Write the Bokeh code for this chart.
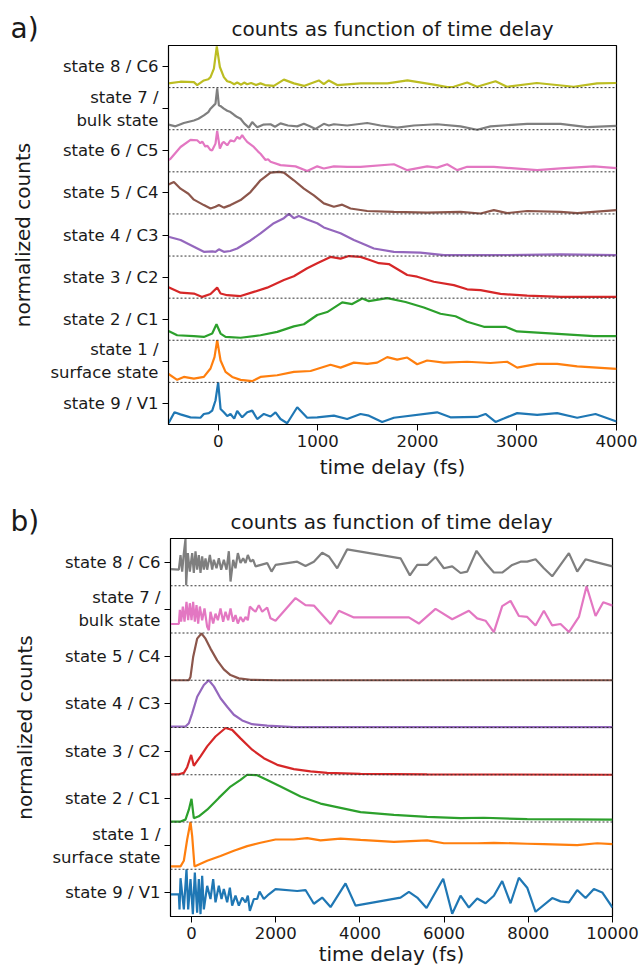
from bokeh.plotting import figure
from bokeh.models import Range1d, FixedTicker, Span
from bokeh.layouts import column
from bokeh.core.properties import value
from bokeh.embed import file_html
from bokeh.resources import INLINE

FONT = "DejaVu Sans"

# ---------------- panel a data (time in fs, normalized counts) ----------------
A_XMAX = 4000
A_XTICKS = [0, 1000, 2000, 3000, 4000]
A_LABELS = ["state 9 / V1", "state 1 /\nsurface state", "state 2 / C1", "state 3 / C2",
            "state 4 / C3", "state 5 / C4", "state 6 / C5", "state 7 /\nbulk state", "state 8 / C6"]

a_v1_t = [-500, -440, -380, -279, -179, -145, -95, -61, -28, -1, 23, 56, 90, 123, 160, 190, 240, 291, 341, 391,
          458, 525, 575, 625, 692, 793, 893, 994, 1161, 1295, 1429, 1513, 1646, 1764, 2198, 2332, 2600, 2684,
          2785, 2868, 3002, 3203, 3404, 3605, 3789, 4000]
a_v1_y = [0.03, 0.29, 0.24, 0.17, 0.16, 0.25, 0.27, 0.33, 0.57, 1.00, 0.37, 0.29, 0.20, 0.25, 0.14, 0.32, 0.17,
          0.29, 0.33, 0.13, 0.25, 0.19, 0.29, 0.13, 0.03, 0.41, 0.16, 0.17, 0.21, 0.13, 0.25, 0.21, 0.06, 0.16,
          0.29, 0.17, 0.18, 0.25, 0.06, 0.14, 0.27, 0.23, 0.27, 0.16, 0.25, 0.07]

a_s1_t = [-500, -413, -346, -245, -145, -78, -38, -11, 23, 73, 140, 224, 341, 424, 592, 759, 927, 1127, 1228,
          1362, 1496, 1596, 1697, 1797, 1898, 1998, 2098, 2266, 2500, 2734, 2902, 3002, 3203, 3404, 3605, 4000]
a_s1_y = [0.20, 0.06, 0.13, 0.09, 0.13, 0.33, 0.60, 1.00, 0.52, 0.25, 0.13, 0.06, 0.03, 0.13, 0.17, 0.25, 0.27,
          0.42, 0.35, 0.47, 0.44, 0.47, 0.60, 0.54, 0.59, 0.43, 0.52, 0.47, 0.49, 0.46, 0.49, 0.35, 0.44, 0.44,
          0.38, 0.32]

a_s2_t = [-500, -413, -245, -145, -61, -18, 23, 73, 224, 424, 592, 759, 860, 994, 1094, 1245, 1345, 1446, 1513,
          1697, 1881, 2065, 2232, 2383, 2500, 2668, 2885, 3002, 3370, 3772, 4000]
a_s2_y = [0.22, 0.12, 0.10, 0.08, 0.16, 0.38, 0.16, 0.08, 0.06, 0.12, 0.20, 0.33, 0.38, 0.60, 0.67, 0.90, 0.86,
          0.99, 0.93, 1.00, 0.91, 0.78, 0.63, 0.57, 0.44, 0.32, 0.32, 0.21, 0.16, 0.10, 0.10]

a_s3_t = [-500, -379, -245, -161, -78, -11, 23, 90, 224, 357, 491, 659, 759, 893, 994, 1127, 1228, 1312, 1429,
          1529, 1613, 1713, 1898, 1998, 2165, 2366, 2500, 2634, 2835, 3103, 3438, 4000]
a_s3_y = [0.26, 0.13, 0.11, 0.03, 0.10, 0.25, 0.11, 0.07, 0.05, 0.15, 0.25, 0.43, 0.52, 0.71, 0.83, 0.98, 0.94,
          1.00, 0.98, 0.90, 0.83, 0.81, 0.55, 0.51, 0.39, 0.31, 0.21, 0.19, 0.10, 0.06, 0.03, 0.03]

a_s4_t = [-500, -379, -245, -145, -60, -28, 6, 56, 120, 190, 260, 324, 424, 558, 659, 709, 759, 809, 893, 994,
          1060, 1228, 1362, 1446, 1563, 1764, 2030, 2266, 2768, 3438, 4000]
a_s4_y = [0.46, 0.38, 0.22, 0.10, 0.11, 0.10, 0.16, 0.10, 0.12, 0.18, 0.28, 0.37, 0.54, 0.78, 0.90, 1.00, 0.90,
          0.95, 0.87, 0.78, 0.68, 0.54, 0.38, 0.30, 0.18, 0.10, 0.08, 0.02, 0.02, 0.04, 0.02]

a_s5_t = [-500, -446, -379, -300, -245, -145, -78, -28, 6, 56, 123, 224, 324, 424, 525, 609, 659, 759, 860, 960,
          1060, 1161, 1245, 1328, 1496, 1764, 2098, 2433, 2634, 2768, 2902, 3103, 3438, 3605, 4000]
a_s5_y = [0.70, 0.76, 0.60, 0.48, 0.34, 0.21, 0.13, 0.17, 0.21, 0.15, 0.21, 0.33, 0.52, 0.80, 0.98, 1.00, 0.98,
          0.80, 0.60, 0.44, 0.25, 0.17, 0.22, 0.13, 0.07, 0.05, 0.03, 0.05, 0.01, 0.09, 0.02, 0.07, 0.05, 0.02,
          0.09]

a_s6_t = [-500, -480, -379, -279, -212, -180, -161, -130, -111, -80, -61, -28, -11, 16, 40, 56, 90, 123, 160,
          190, 215, 240, 260, 290, 357, 400, 424, 475, 500, 525, 625, 776, 893, 994, 1060, 1161, 1295, 1429,
          1764, 1898, 2098, 2198, 2299, 2400, 2500, 2768, 3203, 3438, 3772, 4000]
a_s6_y = [0.28, 0.31, 0.59, 0.76, 0.75, 0.68, 0.72, 0.60, 0.62, 0.52, 0.51, 0.67, 0.97, 0.55, 0.68, 0.71, 0.63,
          0.75, 0.72, 0.83, 0.78, 0.87, 0.80, 0.71, 0.59, 0.48, 0.43, 0.28, 0.30, 0.24, 0.16, 0.13, 0.02, 0.13,
          0.08, 0.13, 0.12, 0.12, 0.18, 0.04, 0.13, 0.10, 0.18, 0.04, 0.12, 0.12, 0.04, 0.08, 0.13, 0.09]

a_s7_t = [-500, -430, -346, -245, -200, -145, -100, -78, -28, -11, 6, 30, 56, 90, 123, 160, 190, 224, 260, 307,
          341, 391, 450, 525, 570, 625, 700, 793, 860, 920, 977, 1060, 1110, 1161, 1295, 1496, 1630, 1797, 1964,
          2198, 2433, 2600, 2734, 3103, 3438, 3706, 4000]
a_s7_y = [0.12, 0.08, 0.16, 0.22, 0.26, 0.34, 0.42, 0.50, 0.62, 0.98, 0.58, 0.55, 0.50, 0.45, 0.42, 0.35, 0.30,
          0.26, 0.15, 0.05, 0.18, 0.06, 0.12, 0.13, 0.07, 0.15, 0.10, 0.08, 0.14, 0.08, 0.02, 0.14, 0.10, 0.13,
          0.10, 0.16, 0.10, 0.05, 0.10, 0.13, 0.08, 0.00, 0.08, 0.14, 0.14, 0.06, 0.09]

a_s8_t = [-500, -380, -245, -212, -145, -100, -78, -44, -15, 16, 56, 90, 123, 160, 190, 230, 260, 290, 330, 380,
          424, 470, 558, 659, 760, 860, 1010, 1060, 1110, 1195, 1430, 1700, 1900, 2165, 2300, 2365, 2500, 2600,
          2785, 2900, 3200, 3570, 3805, 4000]
a_s8_y = [0.10, 0.14, 0.13, 0.06, 0.17, 0.20, 0.25, 0.45, 0.98, 0.49, 0.25, 0.15, 0.13, 0.08, 0.12, 0.07, 0.12,
          0.08, 0.11, 0.06, 0.10, 0.06, 0.04, 0.19, 0.10, 0.04, 0.17, 0.08, 0.17, 0.06, 0.10, 0.10, 0.17, 0.07,
          0.01, 0.02, 0.12, 0.02, 0.15, 0.02, 0.11, 0.02, 0.10, 0.11]

# ---------------- panel b data ----------------
B_XMAX = 10000
B_XTICKS = [0, 2000, 4000, 6000, 8000, 10000]
B_LABELS = ["state 9 / V1", "state 1 /\nsurface state", "state 2 / C1", "state 3 / C2",
            "state 4 / C3", "state 5 / C4", "state 7 /\nbulk state", "state 8 / C6"]

b_v1_t = [-500, -302, -286, -262, -183, -120, -80, -25, 31, 78, 133, 173, 213, 252, 292, 371, 450, 514, 569, 648,
          712, 767, 846, 910, 965, 1044, 1124, 1203, 1282, 1337, 1385, 1480, 1559, 1615, 1717, 1836, 1995, 2510,
          2707, 2906, 3103, 3302, 3658, 3896, 4965, 5163, 5361, 5582, 5978, 6192, 6390, 6588, 6786, 6984, 7182,
          7380, 7578, 7776, 7974, 8172, 8568, 8766, 8964, 9162, 9360, 9558, 9756, 10000]
b_v1_y = [0.47, 0.47, 0.15, 0.81, 0.15, 1.00, 0.15, 0.79, 0.05, 0.93, 0.08, 0.79, 0.05, 0.86, 0.15, 0.65, 0.37,
          0.79, 0.30, 0.65, 0.37, 0.58, 0.30, 0.61, 0.23, 0.44, 0.23, 0.40, 0.30, 0.44, 0.12, 0.37, 0.37, 0.53,
          0.37, 0.47, 0.58, 0.54, 0.56, 0.27, 0.40, 0.20, 0.70, 0.23, 0.40, 0.52, 0.40, 0.18, 0.80, 0.06, 0.44,
          0.19, 0.38, 0.28, 0.44, 0.75, 0.28, 0.82, 0.61, 0.10, 0.39, 0.32, 0.30, 0.56, 0.39, 0.58, 0.51, 0.19]

b_s1_t = [-500, -262, -183, -104, -25, 15, 70, 371, 688, 1005, 1322, 1638, 1995, 2430, 2747, 3064, 3539, 4014,
          4806, 5598, 5994, 6786, 7182, 7974, 8370, 9162, 9638, 10000]
b_s1_y = [0.06, 0.06, 0.18, 0.63, 1.00, 0.70, 0.06, 0.18, 0.28, 0.39, 0.49, 0.56, 0.63, 0.63, 0.66, 0.61, 0.65,
          0.62, 0.58, 0.61, 0.55, 0.55, 0.56, 0.54, 0.53, 0.51, 0.55, 0.53]

b_s2_t = [-500, -262, -144, -64, -1, 54, 173, 371, 648, 926, 1163, 1322, 1559, 1797, 2114, 2589, 3064, 3539,
          4014, 4806, 5598, 6390, 6945, 7974, 10000]
b_s2_y = [0.01, 0.01, 0.05, 0.26, 0.49, 0.08, 0.12, 0.26, 0.51, 0.75, 0.89, 1.00, 0.99, 0.89, 0.75, 0.54, 0.39,
          0.30, 0.21, 0.15, 0.11, 0.08, 0.09, 0.06, 0.05]

b_s3_t = [-500, -302, -183, -104, -9, 54, 213, 371, 569, 807, 965, 1163, 1440, 1717, 2035, 2430, 2826, 3222,
          4014, 5598, 10000]
b_s3_y = [0.01, 0.01, 0.04, 0.16, 0.42, 0.19, 0.39, 0.60, 0.81, 0.99, 0.95, 0.77, 0.53, 0.35, 0.21, 0.12, 0.07,
          0.04, 0.02, 0.01, 0.00]

b_s4_t = [-500, -144, -64, 15, 134, 292, 411, 530, 688, 846, 1005, 1203, 1440, 1797, 2430, 10000]
b_s4_y = [0.02, 0.02, 0.09, 0.30, 0.65, 0.90, 1.00, 0.87, 0.62, 0.44, 0.27, 0.15, 0.07, 0.04, 0.01, 0.01]

b_s5_t = [-500, -65, -25, 38, 133, 236, 332, 450, 609, 767, 926, 1123, 1401, 2035, 10000]
b_s5_y = [0.00, 0.00, 0.07, 0.49, 0.88, 0.99, 0.88, 0.67, 0.42, 0.23, 0.11, 0.04, 0.01, 0.00, 0.00]

b_s7_t = [-500, -302, -278, -247, -207, -167, -120, -80, -41, -1, 38, 78, 118, 157, 197, 252, 308, 371, 411, 450,
          514, 569, 625, 688, 751, 807, 870, 926, 989, 1044, 1100, 1163, 1226, 1282, 1337, 1385, 1464, 1520,
          1599, 1678, 1797, 1876, 1995, 2470, 2707, 2906, 3302, 3500, 3856, 5163, 5400, 5796, 6192, 6588, 6786,
          6984, 7182, 7380, 7578, 7776, 7974, 8172, 8370, 8568, 8766, 8964, 9202, 9384, 9598, 9780, 10000]
b_s7_y = [0.19, 0.19, 0.49, 0.24, 0.56, 0.24, 0.66, 0.27, 0.63, 0.27, 0.66, 0.24, 0.59, 0.20, 0.56, 0.27, 0.52,
          0.13, 0.06, 0.45, 0.20, 0.41, 0.27, 0.52, 0.24, 0.45, 0.27, 0.52, 0.24, 0.38, 0.20, 0.34, 0.24, 0.34,
          0.27, 0.56, 0.49, 0.45, 0.59, 0.45, 0.54, 0.31, 0.26, 0.74, 0.59, 0.58, 0.19, 0.47, 0.33, 0.33, 0.20,
          0.51, 0.29, 0.47, 0.31, 0.26, 0.02, 0.57, 0.68, 0.36, 0.34, 0.16, 0.47, 0.16, 0.19, 0.02, 0.34, 0.99,
          0.36, 0.65, 0.58]

b_s8_t = [-500, -302, -262, -223, -183, -144, -128, -88, -41, 15, 54, 94, 133, 173, 213, 252, 292, 332, 371, 435,
          490, 530, 593, 648, 704, 767, 831, 886, 926, 989, 1044, 1100, 1163, 1226, 1282, 1337, 1401, 1464, 1520,
          1797, 1900, 1995, 2510, 2707, 2906, 3103, 3262, 3460, 3697, 4965, 5187, 5361, 5598, 5796, 5994, 6192,
          6390, 6549, 6770, 6984, 7182, 7380, 7618, 7816, 7974, 8172, 8370, 8568, 8964, 9162, 9360, 9558, 10000]
b_s8_y = [0.35, 0.34, 0.65, 0.30, 0.69, 0.99, 0.01, 0.69, 0.30, 0.69, 0.27, 0.73, 0.34, 0.65, 0.27, 0.62, 0.34,
          0.58, 0.34, 0.65, 0.34, 0.55, 0.37, 0.58, 0.34, 0.55, 0.34, 0.73, 0.09, 0.55, 0.37, 0.69, 0.48, 0.58,
          0.48, 0.65, 0.51, 0.55, 0.41, 0.48, 0.30, 0.44, 0.51, 0.42, 0.51, 0.70, 0.62, 0.37, 0.77, 0.58, 0.22,
          0.44, 0.44, 0.61, 0.37, 0.41, 0.27, 0.30, 0.74, 0.48, 0.28, 0.28, 0.44, 0.51, 0.51, 0.56, 0.37, 0.20,
          0.69, 0.30, 0.56, 0.51, 0.41]

A_SERIES = [(a_v1_t, a_v1_y), (a_s1_t, a_s1_y), (a_s2_t, a_s2_y), (a_s3_t, a_s3_y), (a_s4_t, a_s4_y),
            (a_s5_t, a_s5_y), (a_s6_t, a_s6_y), (a_s7_t, a_s7_y), (a_s8_t, a_s8_y)]
B_SERIES = [(b_v1_t, b_v1_y), (b_s1_t, b_s1_y), (b_s2_t, b_s2_y), (b_s3_t, b_s3_y), (b_s4_t, b_s4_y),
            (b_s5_t, b_s5_y), (b_s7_t, b_s7_y), (b_s8_t, b_s8_y)]

TITLE = "counts as function of time delay"
XLABEL = "time delay (fs)"
YLABEL = "normalized counts"

# styles
BLUE, ORANGE, GREEN, RED, PURPLE, BROWN, PINK, GRAY, OLIVE = (
    "#1f77b4", "#ff7f0e", "#2ca02c", "#d62728", "#9467bd", "#8c564b", "#e377c2", "#7f7f7f", "#bcbd22")
A_COLORS = [BLUE, ORANGE, GREEN, RED, PURPLE, BROWN, PINK, GRAY, OLIVE]
B_COLORS = [BLUE, ORANGE, GREEN, RED, PURPLE, BROWN, PINK, GRAY]
TXT = "#1a1a1a"
W = 640


def make_header(height, letter, title_cx, cy):
    h = figure(width=W, height=height, x_range=Range1d(0, W), y_range=Range1d(0, height),
               output_backend="svg", toolbar_location=None, min_border=0, frame_align=False)
    h.axis.visible = False
    h.grid.visible = False
    h.outline_line_color = None
    h.text(x=[title_cx], y=[height - cy], text=[TITLE], text_align="center", text_baseline="middle",
           text_font=value(FONT), text_font_size="20px", text_color=TXT)
    h.text(x=[10], y=[height - cy], text=[letter], text_align="left", text_baseline="middle",
           text_font=value(FONT), text_font_size="28px", text_color=TXT)
    return h


def make_panel(series, labels, colors, xmax, xticks, height, borders, xlabel_standoff):
    n = len(series)
    left, right, top, bottom = borders
    p = figure(width=W, height=height, x_range=Range1d(-500, xmax), y_range=Range1d(0, n),
               output_backend="svg", toolbar_location=None, frame_align=False,
               min_border_left=left, min_border_right=right, min_border_top=top, min_border_bottom=bottom)
    for i, ((t, v), c) in enumerate(zip(series, colors)):
        p.line(t, [vv + i for vv in v], line_color=c, line_width=2.2)
    for i in range(1, n):
        p.add_layout(Span(location=i, dimension="width", line_color="#333333",
                          line_dash="2 2", line_width=1))
    p.xgrid.visible = False
    p.ygrid.visible = False
    p.outline_line_color = "black"
    p.outline_line_width = 1.2
    p.outline_line_alpha = 1.0
    p.background_fill_color = "white"
    p.border_fill_color = "white"

    p.yaxis.ticker = FixedTicker(ticks=[i + 0.5 for i in range(n)])
    p.yaxis.major_label_overrides = {i + 0.5: labels[i] for i in range(n)}
    p.xaxis.ticker = FixedTicker(ticks=xticks)
    for ax in (p.xaxis, p.yaxis):
        ax.major_label_text_font = FONT
        ax.major_label_text_font_size = "16.5px"
        ax.major_label_text_color = TXT
        ax.major_tick_in = 0
        ax.major_tick_out = 6
        ax.major_label_standoff = 4
        ax.minor_tick_line_color = None
        ax.axis_line_color = "black"
        ax.major_tick_line_color = "black"
        ax.axis_label_text_font = FONT
        ax.axis_label_text_font_size = "20px"
        ax.axis_label_text_font_style = "normal"
        ax.axis_label_text_color = TXT
    p.yaxis.axis_label = YLABEL
    p.yaxis.axis_label_standoff = 12
    p.xaxis.axis_label = XLABEL
    p.xaxis.axis_label_standoff = xlabel_standoff
    return p


ha = make_header(44, "a)", 392, 28)
pa = make_panel(A_SERIES, A_LABELS, A_COLORS, A_XMAX, A_XTICKS, 444, (168, 24, 1, 64), 5)
hb = make_header(49, "b)", 391, 33)
pb = make_panel(B_SERIES, B_LABELS, B_COLORS, B_XMAX, B_XTICKS, 431, (170, 28, 1, 51), 0)

layout = column(ha, pa, hb, pb, spacing=0)
open("out.html", "w").write(file_html(layout, INLINE))
